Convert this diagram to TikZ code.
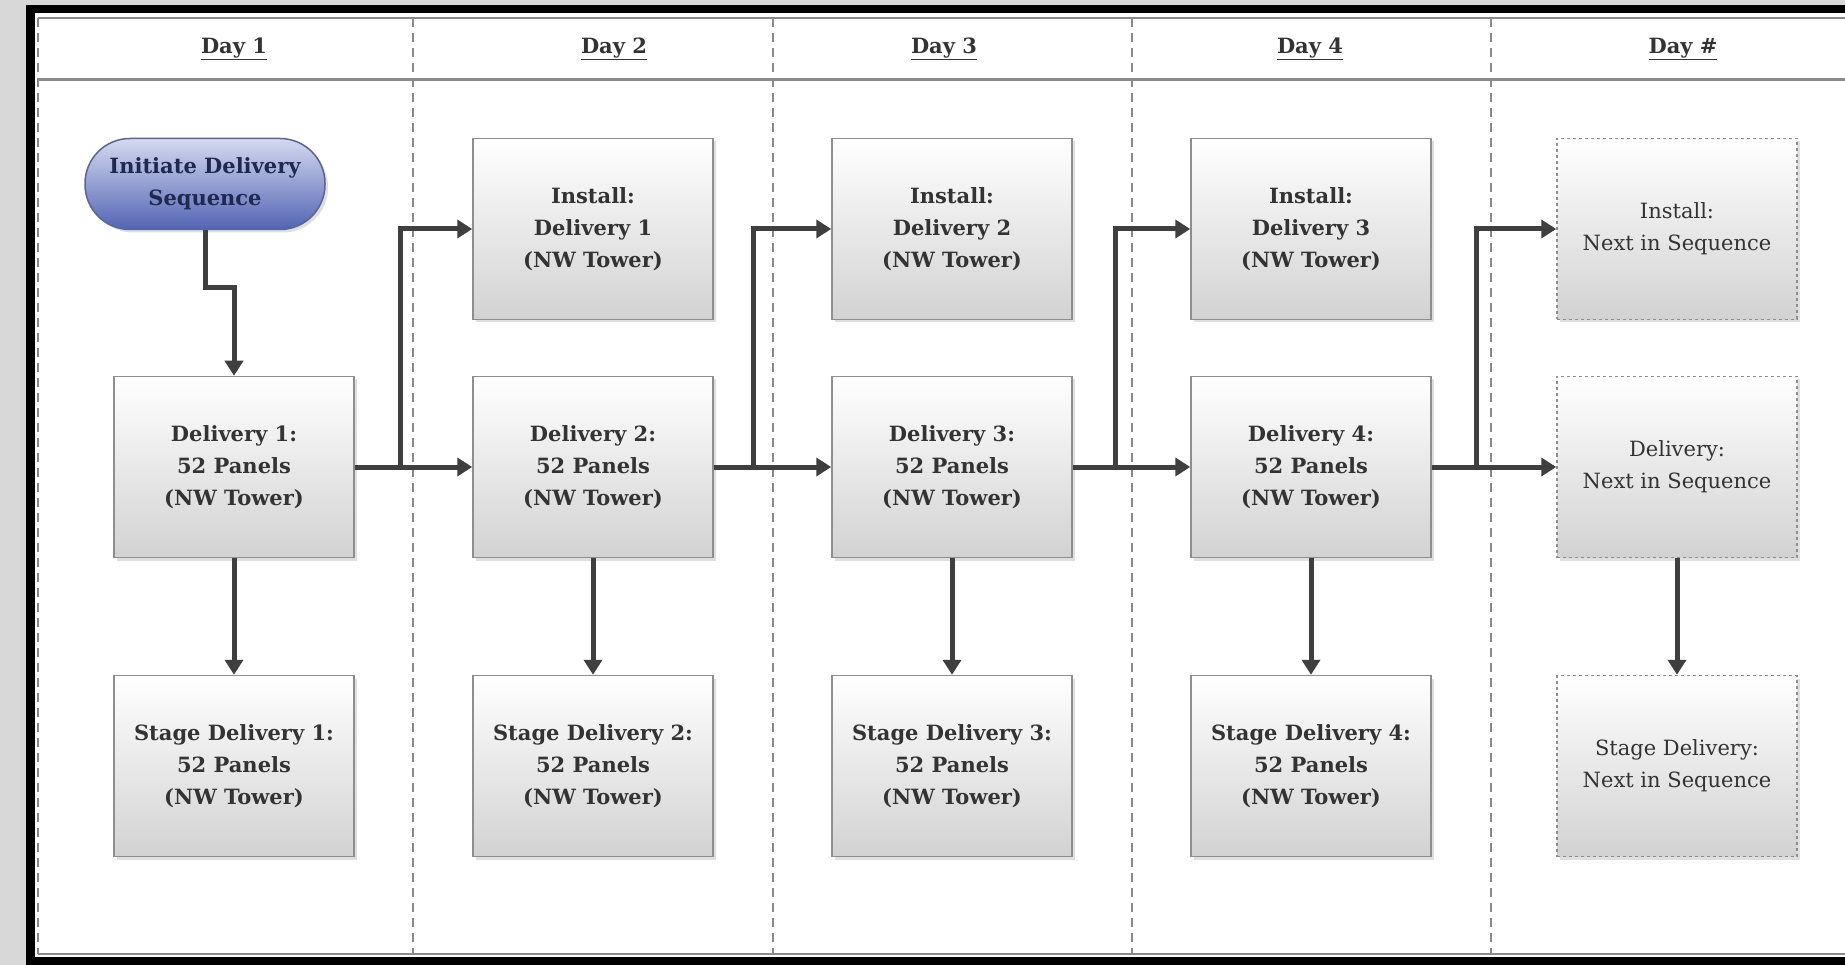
\documentclass[tikz,border=0pt]{standalone}
\usepackage{fontspec}
\setmainfont{DejaVu Serif}
\usepackage{tikz}
\usetikzlibrary{arrows.meta}
\usetikzlibrary{shadows}

\definecolor{linegray}{HTML}{3F3F3F}
\definecolor{boxedge}{HTML}{8E8E8E}
\definecolor{boxbottom}{HTML}{D2D2D2}
\definecolor{textgray}{HTML}{333333}
\definecolor{lanegray}{HTML}{8A8A8A}
\definecolor{bggray}{HTML}{D8D8D8}
\definecolor{inittop}{HTML}{D4DAF0}
\definecolor{initbottom}{HTML}{5264B4}
\definecolor{initedge}{HTML}{5A6590}
\definecolor{inittext}{HTML}{1E2850}

\begin{document}
\begin{tikzpicture}[x=1pt,y=-1pt,
    daybox/.style={draw=boxedge,line width=1.5pt,top color=white,bottom color=boxbottom,
        minimum width=240pt,minimum height=181pt,align=center,text=textgray,
        font=\fontsize{21}{32}\selectfont\bfseries,
        drop shadow={opacity=0.25,shadow xshift=3pt,shadow yshift=-3pt}},
    nextbox/.style={daybox,dashed,font=\fontsize{21}{32}\selectfont},
    startbox/.style={daybox,rounded corners=45pt,minimum height=91pt,draw=initedge,
        top color=inittop,bottom color=initbottom,text=inittext},
    flow/.style={-{Triangle[length=15pt,width=18pt]},line width=5pt,draw=linegray},
    dayhead/.style={text=textgray,font=\fontsize{21}{26}\selectfont\bfseries},
    lane/.style={lanegray,dashed,line width=1.5pt,dash pattern=on 9pt off 6pt}]
    \useasboundingbox (0,0) rectangle (1845,965);

    % frame and lanes
    \fill[bggray] (0,0) rectangle (1845,965);
    \fill[black] (26,5) rectangle (1845,965);
    \fill[white] (35,13) rectangle (1845,957);
    \draw[lanegray,line width=1.5pt] (38,18) -- (1845,18);
    \draw[lanegray,line width=1.5pt] (38,954) -- (1845,954);
    \draw[lanegray,line width=3pt] (38,80) -- (1845,80);
    \draw[lane] (38,18) -- (38,954);
    \draw[lane] (413,18) -- (413,954);
    \draw[lane] (773,18) -- (773,954);
    \draw[lane] (1132,18) -- (1132,954);
    \draw[lane] (1491,18) -- (1491,954);

    \node[dayhead] (day1) at (234,49) {\underline{Day 1}};
    \node[dayhead] (day2) at (614,49) {\underline{Day 2}};
    \node[dayhead] (day3) at (944,49) {\underline{Day 3}};
    \node[dayhead] (day4) at (1310,49) {\underline{Day 4}};
    \node[dayhead] (day5) at (1683,49) {\underline{Day \#}};

    % day 1
    \node[startbox] (init) at (205,184) {Initiate Delivery\\Sequence};
    \node[daybox] (del1) at (234,467) {Delivery 1:\\52 Panels\\(NW Tower)};
    \node[daybox] (stage1) at (234,766) {Stage Delivery 1:\\52 Panels\\(NW Tower)};

    % day 2
    \node[daybox] (inst2) at (593,229) {Install:\\Delivery 1\\(NW Tower)};
    \node[daybox] (del2) at (593,467) {Delivery 2:\\52 Panels\\(NW Tower)};
    \node[daybox] (stage2) at (593,766) {Stage Delivery 2:\\52 Panels\\(NW Tower)};

    % day 3
    \node[daybox] (inst3) at (952,229) {Install:\\Delivery 2\\(NW Tower)};
    \node[daybox] (del3) at (952,467) {Delivery 3:\\52 Panels\\(NW Tower)};
    \node[daybox] (stage3) at (952,766) {Stage Delivery 3:\\52 Panels\\(NW Tower)};

    % day 4
    \node[daybox] (inst4) at (1311,229) {Install:\\Delivery 3\\(NW Tower)};
    \node[daybox] (del4) at (1311,467) {Delivery 4:\\52 Panels\\(NW Tower)};
    \node[daybox] (stage4) at (1311,766) {Stage Delivery 4:\\52 Panels\\(NW Tower)};

    % day #
    \node[nextbox] (inst5) at (1677,229) {Install:\\Next in Sequence};
    \node[nextbox] (del5) at (1677,467) {Delivery:\\Next in Sequence};
    \node[nextbox] (stage5) at (1677,766) {Stage Delivery:\\Next in Sequence};

    \draw[flow] (init.south) -- ++(0,57) -| (del1.north);

    \draw[flow] (del1.east) -- (del2.west);
    \draw[flow] (del1.east) -- ++(46,0) |- (inst2.west);
    \draw[flow] (del2.east) -- (del3.west);
    \draw[flow] (del2.east) -- ++(40,0) |- (inst3.west);
    \draw[flow] (del3.east) -- (del4.west);
    \draw[flow] (del3.east) -- ++(43,0) |- (inst4.west);
    \draw[flow] (del4.east) -- (del5.west);
    \draw[flow] (del4.east) -- ++(45,0) |- (inst5.west);

    \draw[flow] (del1.south) -- (stage1.north);
    \draw[flow] (del2.south) -- (stage2.north);
    \draw[flow] (del3.south) -- (stage3.north);
    \draw[flow] (del4.south) -- (stage4.north);
    \draw[flow] (del5.south) -- (stage5.north);
\end{tikzpicture}
\end{document}
